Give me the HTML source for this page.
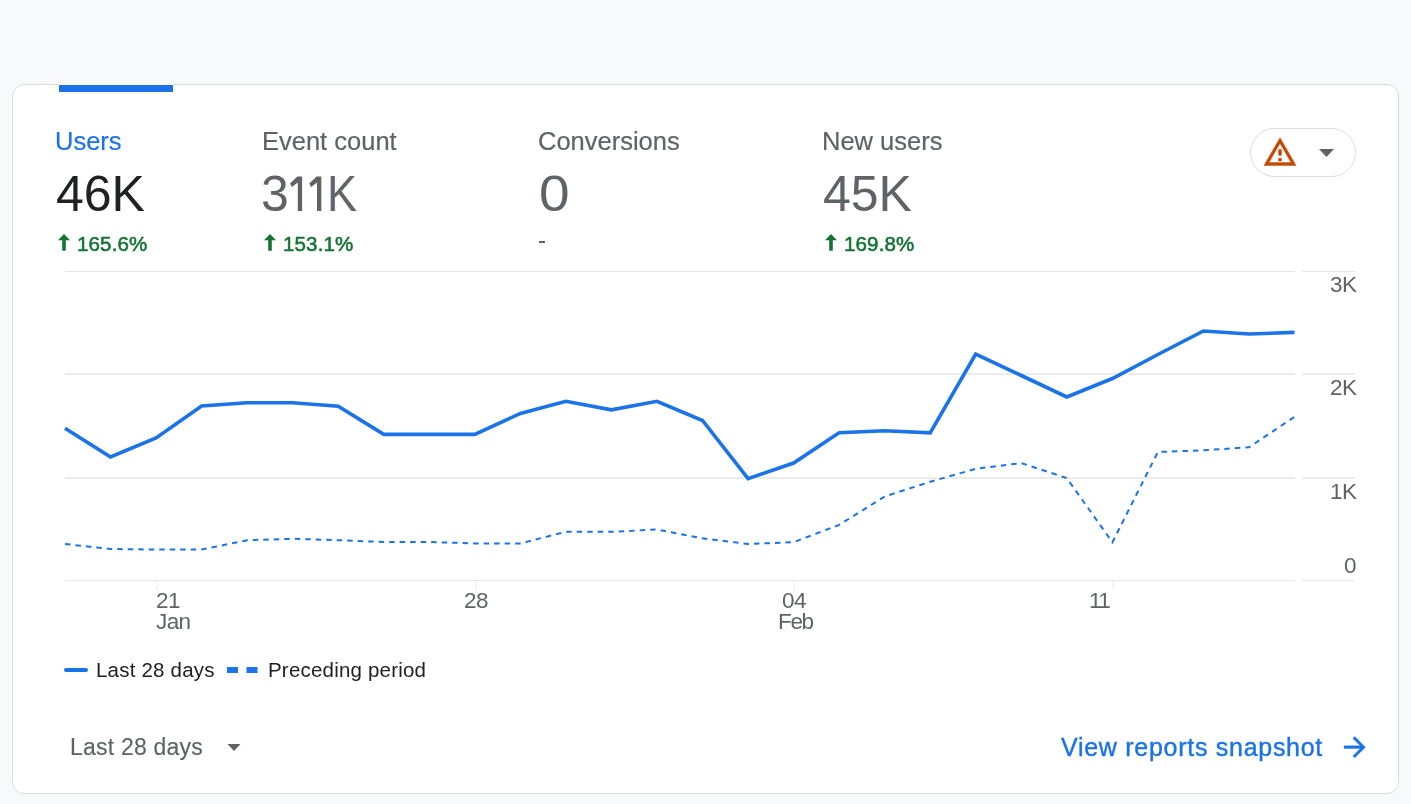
<!DOCTYPE html>
<html><head><meta charset="utf-8">
<style>
html,body{margin:0;padding:0;}
body{width:1411px;height:804px;background:#f8f9fa;position:relative;overflow:hidden;font-family:"Liberation Sans",sans-serif;}
.card{position:absolute;left:12px;top:84px;width:1385px;height:708px;border:1px solid #dadce0;border-radius:12px;background:#fff;}
.tab{position:absolute;left:59px;top:84px;width:114px;height:8px;background:#1a73e8;}
.tabtop{position:absolute;left:59px;top:84px;width:114px;height:1px;background:#f8f9fa;}
.m{position:absolute;white-space:nowrap;line-height:1;will-change:transform;}
.lbl{font-size:25.5px;color:#5f6368;-webkit-text-stroke:0.2px #5f6368;}
.val{font-size:50px;color:#5f6368;}
.chg{font-size:20.5px;color:#137333;-webkit-text-stroke:0.55px #137333;letter-spacing:0.15px;}
.ax{font-size:22.5px;letter-spacing:-0.6px;color:#5f6368;}
.leg{font-size:20.5px;color:#202124;letter-spacing:0.2px;}
svg{position:absolute;left:0;top:0;}
</style></head>
<body>
<div class="card"></div>
<div class="tab"></div>
<div class="tabtop"></div>

<div class="m lbl" style="left:54.5px;top:129.4px;color:#1a73e8;-webkit-text-stroke:0.2px #1a73e8;">Users</div>
<div class="m val" style="left:56px;top:168.9px;color:#202124;">46K</div>
<div class="m chg" style="left:77.2px;top:233.8px;">165.6%</div>

<div class="m lbl" style="left:262px;top:129.4px;">Event count</div>
<div class="m val" style="left:261px;top:168.9px;">3</div>
<div class="m val" style="left:326.5px;top:168.9px;transform:scaleX(0.9);transform-origin:0 0;">K</div>
<div class="m chg" style="left:282.6px;top:233.8px;">153.1%</div>

<div class="m lbl" style="left:538px;top:129.4px;">Conversions</div>
<div class="m val" style="left:538.5px;top:168.9px;transform:scaleX(1.1);transform-origin:0 0;">0</div>
<div class="m" style="left:539px;top:240.6px;width:5.6px;height:1.8px;background:#5f6368;"></div>

<div class="m lbl" style="left:822px;top:129.4px;">New users</div>
<div class="m val" style="left:822.5px;top:168.9px;">45K</div>
<div class="m chg" style="left:844px;top:233.8px;">169.8%</div>

<svg width="1411" height="804" viewBox="0 0 1411 804">
  <!-- change arrows -->
  <g fill="#137333">
    <path d="M64 234 L70 240.3 L65.8 240.3 L65.8 250.7 L62.2 250.7 L62.2 240.3 L58 240.3 Z"/>
    <path d="M270 234 L276 240.3 L271.8 240.3 L271.8 250.7 L268.2 250.7 L268.2 240.3 L264 240.3 Z"/>
    <path d="M831 234 L837 240.3 L832.8 240.3 L832.8 250.7 L829.2 250.7 L829.2 240.3 L825 240.3 Z"/>
  </g>
  <!-- pill -->
  <rect x="1250.5" y="128.5" width="105" height="48" rx="24" ry="24" fill="#fff" stroke="#dadce0" stroke-width="1"/>
  <g transform="translate(1262.5,134.8) scale(1.46)" fill="#c04a04" stroke="#c04a04" stroke-width="0.3">
    <path d="M12 5.99L19.53 19H4.47L12 5.99M12 2L1 21h22L12 2zm1 14h-2v2h2v-2zm0-6h-2v4h2v-4z"/>
  </g>
  <path d="M1319 149 L1334 149 L1326.5 157 Z" fill="#5f6368"/>
  <!-- grid -->
  <g fill="#e5e5e5">
    <rect x="65" y="271" width="1230" height="1"/>
    <rect x="1302" y="271" width="53" height="1"/>
    <rect x="65" y="580" width="1230" height="1"/>
    <rect x="1302" y="580" width="53" height="1"/>
  </g>
  <g fill="#ececec">
    <rect x="65" y="373" width="1230" height="2"/>
    <rect x="1302" y="373" width="53" height="2"/>
    <rect x="65" y="477" width="1230" height="2"/>
    <rect x="1302" y="477" width="53" height="2"/>
    <rect x="156.5" y="581" width="1" height="9"/>
    <rect x="475.5" y="581" width="1" height="9"/>
    <rect x="794" y="581" width="1" height="9"/>
    <rect x="1112.5" y="581" width="1" height="9"/>
  </g>
  <polyline fill="none" stroke="#1a73e8" stroke-width="3.6" stroke-linejoin="miter" points="65.0,428.2 110.5,457.0 156.1,438.0 201.6,406.0 247.1,402.7 292.7,402.7 338.2,406.3 383.8,434.4 429.3,434.4 474.8,434.4 520.4,413.4 565.9,401.3 611.4,409.8 657.0,401.3 702.5,420.5 748.1,478.6 793.6,463.0 839.1,432.8 884.7,430.7 930.2,432.8 975.7,354.0 1021.3,375.5 1066.8,397.0 1112.4,378.5 1157.9,354.5 1203.4,331.0 1249.0,334.0 1294.5,332.4"/>
  <polyline fill="none" stroke="#1a73e8" stroke-width="2" stroke-dasharray="5.5 5" points="65.0,544.0 110.5,549.0 156.1,549.6 201.6,549.6 247.1,540.2 292.7,538.8 338.2,540.2 383.8,542.0 429.3,542.0 474.8,543.4 520.4,543.4 565.9,531.8 611.4,531.8 657.0,529.5 702.5,538.3 748.1,544.0 793.6,542.2 839.1,524.9 884.7,496.5 930.2,481.8 975.7,468.8 1021.3,463.1 1066.8,478.1 1112.4,542.3 1157.9,452.0 1203.4,450.3 1249.0,447.3 1294.5,416.8"/>
  <!-- legend -->
  <line x1="66" y1="670" x2="86" y2="670" stroke="#1a73e8" stroke-width="4" stroke-linecap="round"/>
  <rect x="227" y="667" width="11" height="6" fill="#1a73e8"/>
  <rect x="246.5" y="667" width="11" height="6" fill="#1a73e8"/>
  <!-- footer -->
  <path d="M227.5 744 L240.5 744 L234 751 Z" fill="#5f6368"/>
  <g transform="translate(1338.8,731.2) scale(1.33)" fill="#1a73e8" stroke="#1a73e8" stroke-width="0.3"><path d="M12 4l-1.41 1.41L16.17 11H4v2h12.17l-5.58 5.59L12 20l8-8z"/></g>
  <g fill="#5f6368">
    <path d="M302.1 176.6 L302.1 211 L297.8 211 L297.8 182.6 L291.9 186.9 L290 183.6 L297.4 176.6 Z"/>
    <path d="M321.3 176.6 L321.3 211 L317 211 L317 182.6 L311.1 186.9 L309.2 183.6 L316.6 176.6 Z"/>
  </g>
</svg>

<div class="m ax" style="right:55px;top:274.1px;">3K</div>
<div class="m ax" style="right:55px;top:377.4px;">2K</div>
<div class="m ax" style="right:55px;top:480.7px;">1K</div>
<div class="m ax" style="right:55px;top:555.4px;">0</div>

<div class="m ax" style="left:156px;top:590.2px;">21</div>
<div class="m ax" style="left:156px;top:611.4px;">Jan</div>
<div class="m ax" style="left:464px;top:590.2px;">28</div>
<div class="m ax" style="left:782px;top:590.2px;">04</div>
<div class="m ax" style="left:777.5px;top:611.4px;letter-spacing:-1.35px;">Feb</div>
<div class="m ax" style="left:1089px;top:590.2px;letter-spacing:-1.5px;">11</div>

<div class="m leg" style="left:95.5px;top:660px;">Last 28 days</div>
<div class="m leg" style="left:268px;top:660px;">Preceding period</div>

<div class="m" style="left:70px;top:736.4px;font-size:23px;letter-spacing:0.22px;color:#5f6368;-webkit-text-stroke:0.15px #5f6368;">Last 28 days</div>
<div class="m" style="left:1060.5px;top:734.8px;font-size:25px;letter-spacing:0.72px;color:#1a73e8;-webkit-text-stroke:0.4px #1a73e8;">View reports snapshot</div>
</body></html>
